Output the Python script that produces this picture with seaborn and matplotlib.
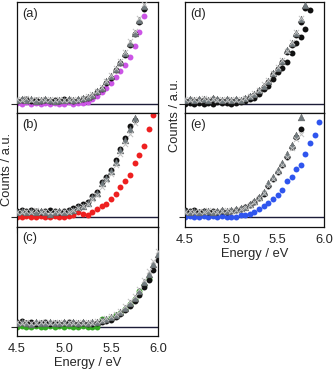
import numpy as np
import pandas as pd
import seaborn as sns
import matplotlib.pyplot as plt

sns.set_style("ticks")
plt.rcParams['font.family'] = ['Liberation Sans', 'DejaVu Sans']

nan = np.nan
energy = [4.50, 4.55, 4.60, 4.65, 4.70, 4.75, 4.80, 4.85, 4.90, 4.95, 5.00,
          5.05, 5.10, 5.15, 5.20, 5.25, 5.30, 5.35, 5.40, 5.45, 5.50,
          5.55, 5.60, 5.65, 5.70, 5.75, 5.80, 5.85, 5.90, 5.95, 6.00]

# panel (a)
gray_a = [0.04, 0.05, 0.04, 0.05, 0.03, 0.04, 0.05, 0.04, 0.03, 0.04, 0.04, 0.05, 0.04, 0.05, 0.06, 0.07,
          0.09, 0.13, 0.16, 0.22, 0.27, 0.34, 0.415, 0.50, 0.60, 0.70, 0.82, 0.96, nan, nan, nan]
black_a = [0.03, 0.04, 0.05, 0.03, 0.04, 0.03, 0.04, 0.03, 0.04, 0.03, 0.05, 0.04, 0.03, 0.04, 0.05, 0.06,
           0.08, 0.12, 0.15, 0.20, 0.25, 0.33, 0.40, 0.48, 0.58, 0.69, 0.80, 0.93, nan, nan, nan]
cross_a = [0.05, 0.04, 0.06, 0.04, 0.05, 0.05, 0.04, 0.05, 0.04, 0.05, 0.04, 0.04, 0.05, 0.04, 0.06, 0.08,
           0.10, 0.13, 0.17, 0.22, 0.28, 0.35, 0.42, 0.51, 0.62, 0.72, 0.84, 0.98, nan, nan, nan]
purple_a = [0.01, 0.00, 0.02, 0.00, 0.01, 0.00, 0.01, 0.00, 0.01, 0.00, 0.00, 0.02, 0.00, 0.01, 0.01, 0.02,
            0.05, 0.08, 0.115, 0.16, 0.20, 0.26, 0.32, 0.38, 0.46, 0.57, 0.71, 0.86, nan, nan, nan]

# panel (b)
gray_b = [0.04, 0.05, 0.04, 0.05, 0.04, 0.05, 0.04, 0.03, 0.04, 0.05, 0.04, 0.05, 0.06, 0.09, 0.105, 0.13,
          0.19, 0.23, 0.32, 0.375, 0.44, 0.53, 0.64, 0.74, 0.85, 0.95, nan, nan, nan, nan, nan]
black_b = [0.05, 0.06, 0.05, 0.06, 0.05, 0.04, 0.05, 0.06, 0.05, 0.04, 0.05, 0.06, 0.08, 0.10, 0.12, 0.14,
           0.20, 0.24, 0.33, 0.38, 0.45, 0.55, 0.65, 0.76, 0.87, 0.93, nan, nan, nan, nan, nan]
cross_b = [0.04, 0.04, 0.05, 0.04, 0.06, 0.04, 0.05, 0.04, 0.05, 0.04, 0.05, 0.04, 0.06, 0.08, 0.10, 0.12,
           0.17, 0.21, 0.29, 0.35, 0.41, 0.50, 0.60, 0.70, 0.80, 0.90, nan, nan, nan, nan, nan]
red_b = [0.00, 0.00, 0.01, 0.00, 0.00, 0.01, 0.00, 0.00, 0.01, 0.00, 0.00, 0.01, 0.02, 0.04, 0.03, 0.02,
         0.04, 0.07, 0.10, 0.12, 0.17, 0.22, 0.29, 0.34, 0.40, 0.52, 0.59, 0.68, 0.85, 0.98, nan]

# panel (c)
gray_c = [0.04, 0.05, 0.04, 0.03, 0.05, 0.04, 0.04, 0.05, 0.04, 0.04, 0.05, 0.04, 0.05, 0.04, 0.05, 0.04,
          0.05, 0.05, 0.07, 0.08, 0.10, 0.12, 0.15, 0.195, 0.245, 0.29, 0.36, 0.45, 0.53, 0.63, 0.73]
black_c = [0.05, 0.06, 0.04, 0.05, 0.03, 0.04, 0.05, 0.03, 0.04, 0.03, 0.04, 0.05, 0.04, 0.03, 0.04, 0.03,
           0.03, 0.04, 0.05, 0.06, 0.07, 0.10, 0.13, 0.17, 0.21, 0.26, 0.32, 0.40, 0.47, 0.57, 0.67]
cross_c = [0.05, 0.04, 0.05, 0.04, 0.04, 0.05, 0.05, 0.04, 0.05, 0.05, 0.04, 0.05, 0.04, 0.05, 0.04, 0.05,
           0.04, 0.06, 0.07, 0.09, 0.11, 0.13, 0.16, 0.21, 0.26, 0.31, 0.38, 0.47, 0.56, 0.66, 0.76]
green_c = [0.00, 0.01, 0.00, 0.00, 0.01, 0.00, 0.00, 0.01, 0.00, 0.01, 0.00, 0.01, 0.00, 0.00, 0.01, 0.00,
           0.00, 0.00, 0.08, 0.07, 0.09, 0.12, 0.14, 0.18, 0.23, 0.28, 0.36, 0.42, 0.48, nan, nan]

# panel (d)
gray_d = [0.04, 0.05, 0.04, 0.05, 0.05, 0.04, 0.06, 0.05, 0.04, 0.05, 0.04, 0.05, 0.04, 0.06, 0.08, 0.10,
          0.14, 0.18, 0.22, 0.30, 0.35, 0.42, 0.525, 0.60, 0.70, 0.83, 0.97, nan, nan, nan, nan]
black_d = [0.03, 0.04, 0.03, 0.04, 0.04, 0.03, 0.05, 0.04, 0.03, 0.04, 0.03, 0.04, 0.03, 0.05, 0.07, 0.09,
           0.13, 0.17, 0.21, 0.29, 0.34, 0.41, 0.51, 0.58, 0.68, 0.80, 0.94, nan, nan, nan, nan]
cross_d = [0.05, 0.04, 0.05, 0.04, 0.06, 0.05, 0.05, 0.04, 0.05, 0.04, 0.05, 0.04, 0.05, 0.06, 0.08, 0.11,
           0.14, 0.19, 0.23, 0.30, 0.36, 0.43, 0.52, 0.61, 0.71, 0.84, nan, nan, nan, nan, nan]
sample_d = [0.00, 0.01, 0.00, 0.01, 0.00, 0.01, 0.00, 0.02, 0.01, 0.01, 0.00, 0.01, 0.02, 0.03, 0.05, 0.06,
            0.10, 0.15, 0.18, 0.24, 0.31, 0.35, 0.41, 0.50, 0.60, 0.66, 0.735, 0.92, nan, nan, nan]

# panel (e)
gray_e = [0.05, 0.04, 0.05, 0.04, 0.05, 0.05, 0.04, 0.05, 0.06, 0.05, 0.06, 0.07, 0.08, 0.095, 0.12, 0.15,
          0.19, 0.24, 0.32, 0.38, 0.45, 0.52, 0.60, 0.69, 0.79, 0.96, nan, nan, nan, nan, nan]
black_e = [0.06, 0.05, 0.06, 0.04, 0.05, 0.04, 0.05, 0.04, 0.05, 0.04, 0.05, 0.06, 0.07, 0.09, 0.11, 0.14,
           0.18, 0.22, 0.30, 0.36, 0.43, 0.50, 0.58, 0.67, 0.77, 0.85, nan, nan, nan, nan, nan]
cross_e = [0.04, 0.05, 0.04, 0.05, 0.04, 0.06, 0.05, 0.04, 0.05, 0.06, 0.05, 0.06, 0.07, 0.09, 0.11, 0.14,
           0.18, 0.23, 0.30, 0.36, 0.43, 0.50, 0.58, 0.66, 0.75, 0.80, nan, nan, nan, nan, nan]
blue_e = [0.00, 0.01, 0.00, 0.00, 0.01, 0.00, 0.01, 0.00, 0.01, 0.00, 0.00, 0.00, 0.02, 0.02, 0.03, 0.04,
          0.07, 0.10, 0.13, 0.17, 0.21, 0.26, 0.34, 0.385, 0.46, 0.50, 0.60, 0.71, 0.79, 0.91, nan]

panel_labels = ["(a)", "(b)", "(c)", "(d)", "(e)"]
xticks = [4.5, 5.0, 5.5, 6.0]

W, H = 335, 374
fig = plt.figure(figsize=(W / 100, H / 100), dpi=100)


def make_ax(x0, x1, y0, y1):
    return fig.add_axes([x0 / W, 1 - y1 / H, (x1 - x0) / W, (y1 - y0) / H])


axes = [make_ax(17, 158, 2, 113), make_ax(17, 158, 113, 227), make_ax(17, 158, 227, 336),
        make_ax(185, 324, 2, 113), make_ax(185, 324, 113, 227)]

panels = [
    (black_a, cross_a, gray_a, purple_a, "#cc55e6"),
    (black_b, cross_b, gray_b, red_b, "#ee2020"),
    (black_c, cross_c, gray_c, green_c, "#33aa22"),
    (black_d, cross_d, gray_d, sample_d, "#111111"),
    (black_e, cross_e, gray_e, blue_e, "#2f55ee"),
]
ylows = [-0.09, -0.1, -0.09, -0.09, -0.1]

for i, (ax, (blk, crs, gry, smp, col)) in enumerate(zip(axes, panels)):
    ax.axhline(0, color="#1c1c38", lw=1.0, zorder=1)
    sns.scatterplot(x=energy, y=smp, ax=ax, color=col, marker="o", s=18, linewidth=0, zorder=2)
    sns.scatterplot(x=energy, y=blk, ax=ax, color="#111111", marker="o", s=18, linewidth=0, zorder=3)
    sns.scatterplot(x=energy, y=gry, ax=ax, color="#727c80", marker="^", s=24,
                    edgecolor="#555555", linewidth=0.3, zorder=4)
    sns.scatterplot(x=energy, y=crs, ax=ax, color="#c0c0c0", marker="x", s=14, linewidth=0.7, zorder=5)
    ax.set_xlim(4.5, 6.0)
    ax.set_ylim(ylows[i], 1.0)
    ax.set_xticks(xticks)
    ax.set_yticks([0])
    ax.set_yticklabels([])
    ax.tick_params(axis="y", direction="out", length=4, width=0.8)
    bottom = i in (2, 4)
    if bottom:
        ax.set_xticklabels(["4.5", "5.0", "5.5", "6.0"], fontsize=9.3)
        ax.tick_params(axis="x", length=0, pad=5)
        ax.set_xlabel("Energy / eV", fontsize=9.3, labelpad=1.5)
    else:
        ax.set_xticklabels([])
        ax.tick_params(axis="x", direction="out", length=4, width=0.8)
    for sp in ax.spines.values():
        sp.set_linewidth(0.9)
        sp.set_color("#111111")
    ax.text(0.04, 0.95, panel_labels[i], transform=ax.transAxes, ha="left", va="top", fontsize=9.3)

fig.text(7 / W, 1 - 169 / H, "Counts / a.u.", rotation=90, ha="center", va="center", fontsize=9.3)
fig.text(175 / W, 1 - 115 / H, "Counts / a.u.", rotation=90, ha="center", va="center", fontsize=9.3)

fig.savefig("out.png", dpi=100)
